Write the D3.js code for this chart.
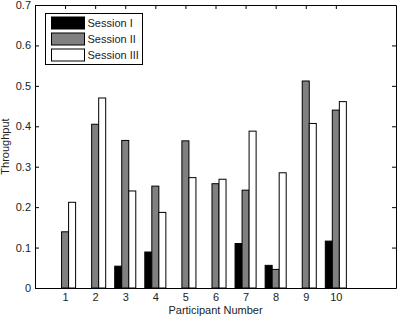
<!DOCTYPE html>
<html>
<head>
<meta charset="utf-8">
<script src="https://cdn.jsdelivr.net/npm/d3@7"></script>
<style>
  body { margin: 0; background: #fff; }
  text { font-family: "Liberation Sans", Arial, sans-serif; }
</style>
</head>
<body>
<div id="chart"></div>
<script>
const participants = [1, 2, 3, 4, 5, 6, 7, 8, 9, 10]
const sessions = ["Session I", "Session II", "Session III"]
const session1 = [0, 0, 0.054, 0.089, 0, 0, 0.110, 0.056, 0, 0.116]
const session2 = [0.139, 0.405, 0.365, 0.252, 0.364, 0.258, 0.242, 0.046, 0.512, 0.440]
const session3 = [0.212, 0.470, 0.240, 0.187, 0.273, 0.269, 0.388, 0.285, 0.407, 0.461]
const yTicks = [0, 0.1, 0.2, 0.3, 0.4, 0.5, 0.6, 0.7]
const colors = ["#000000", "#808080", "#ffffff"]

const width = 397, height = 318
const marginLeft = 35, marginRight = 1, marginTop = 5, marginBottom = 30

const series = [session1, session2, session3]

const x = d3.scaleLinear().domain([0, 12]).range([marginLeft, width - marginRight])
const y = d3.scaleLinear().domain([0, 0.7]).range([height - marginBottom, marginTop])

const svg = d3.select("#chart").append("svg")
    .attr("width", width)
    .attr("height", height)

const bw = (x(1) - x(0)) * 0.7 / 3

// axes first (matlab style box with inward ticks)
const xAxis = d3.axisBottom(x).tickValues(participants).tickSizeInner(-4).tickSizeOuter(0).tickPadding(5)
const yAxis = d3.axisLeft(y).tickValues(yTicks).tickSizeInner(-4).tickSizeOuter(0).tickPadding(4)
    .tickFormat(d => d === 0 ? "0" : d3.format(".1f")(d))

svg.append("g")
    .attr("transform", `translate(0,${y(0)})`)
    .call(xAxis)
    .call(g => g.selectAll("text").attr("font-size", 11).attr("fill", "#222"))

svg.append("g")
    .attr("transform", `translate(${x(0)},0)`)
    .call(yAxis)
    .call(g => g.selectAll("text").attr("font-size", 11).attr("fill", "#222"))

// top and right ticks
svg.append("g")
    .attr("transform", `translate(0,${y(0.7)})`)
    .call(d3.axisTop(x).tickValues(participants).tickSizeInner(-4).tickSizeOuter(0).tickFormat(""))

svg.append("g")
    .attr("transform", `translate(${x(12)},0)`)
    .call(d3.axisRight(y).tickValues(yTicks).tickSizeInner(-4).tickSizeOuter(0).tickFormat(""))

svg.selectAll(".domain").attr("stroke", "#000")

// bars
series.forEach((vals, j) => {
    svg.append("g")
        .selectAll("rect")
        .data(participants.map((p, i) => ({p: p, v: vals[i]})).filter(d => d.v > 0))
        .join("rect")
        .attr("x", d => x(d.p) + (j - 1.5) * bw)
        .attr("y", d => y(d.v))
        .attr("width", bw)
        .attr("height", d => y(0) - y(d.v))
        .attr("fill", colors[j])
        .attr("stroke", "#000")
        .attr("stroke-width", 1)
})

// axis labels
svg.append("text")
    .attr("x", (x(0) + x(12)) / 2)
    .attr("y", height - 4)
    .attr("text-anchor", "middle")
    .attr("font-size", 11)
    .attr("fill", "#222")
    .text("Participant Number")

svg.append("text")
    .attr("transform", `translate(9,${(y(0) + y(0.7)) / 2}) rotate(-90)`)
    .attr("text-anchor", "middle")
    .attr("font-size", 11)
    .attr("fill", "#222")
    .text("Throughput")

// legend
const legend = svg.append("g").attr("transform", "translate(45.5,13.5)")
legend.append("rect")
    .attr("width", 97)
    .attr("height", 51)
    .attr("fill", "#fff")
    .attr("stroke", "#000")

sessions.forEach((s, i) => {
    legend.append("rect")
        .attr("x", 6)
        .attr("y", 3.5 + i * 16)
        .attr("width", 33)
        .attr("height", 12)
        .attr("fill", colors[i])
        .attr("stroke", "#000")
    legend.append("text")
        .attr("x", 42)
        .attr("y", 13.5 + i * 16)
        .attr("font-size", 11)
        .attr("fill", "#222")
        .text(s)
})
</script>
</body>
</html>
